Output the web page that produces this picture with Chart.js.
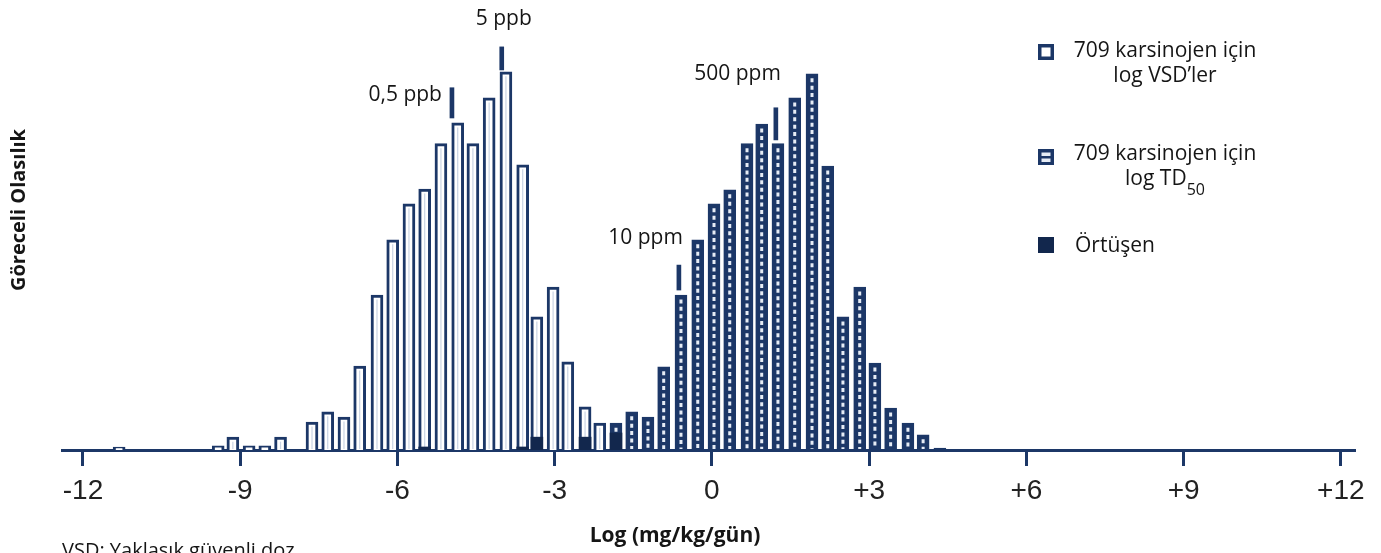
<!DOCTYPE html>
<html lang="tr">
<head>
<meta charset="utf-8">
<title>log VSD ve log TD50 dağılımı</title>
<script src="https://cdn.jsdelivr.net/npm/chart.js@4.4.1/dist/chart.umd.min.js"></script>
<style>
  html, body { margin: 0; padding: 0; background: #fff; }
  canvas { display: block; }
</style>
</head>
<body>
<canvas id="histChart" width="1381" height="553"></canvas>
<script>
// bin centres (log mg/kg/gün) and bar heights (tallest bar = 100)
const vsdLog = [-11.31, -9.42, -9.14, -8.83, -8.53, -8.23, -7.63, -7.33, -7.02, -6.72, -6.39, -6.09, -5.78,
  -5.48, -5.17, -4.85, -4.56, -4.25, -3.93, -3.61, -3.34, -3.03, -2.75, -2.42, -2.14];
const vsdValues = [0.8, 1.1, 3.4, 1.1, 1.1, 3.4, 7.4, 10.1, 8.7, 22.2, 41.0, 55.6, 65.1,
  69.0, 81.0, 86.5, 81.0, 93.1, 100, 75.4, 35.2, 43.1, 23.3, 11.4, 7.1];

const td50Log = [-1.83, -1.53, -1.22, -0.92, -0.59, -0.27, 0.04, 0.34, 0.67, 0.95, 1.26, 1.58, 1.91,
  2.21, 2.50, 2.82, 3.11, 3.41, 3.74, 4.03, 4.35];
const td50Values = [7.1, 10.1, 8.7, 22.0, 41.0, 55.6, 65.1, 68.8, 81.0, 86.2, 81.0, 93.1, 99.5,
  75.1, 35.2, 43.1, 23.0, 11.1, 7.1, 4.0, 0.5];

const overlapLog = [-5.48, -3.61, -3.34, -2.42, -1.83];
const overlapValues = [0.8, 0.8, 3.4, 3.4, 4.5];

// reference doses marked above the bars
const markerLog = [-4.96, -4.01, -0.63, 1.22];
const markerLow = [87.8, 100.5, 42.3, 82.0];
const markerHigh = [95.8, 106.6, 48.9, 90.5];
const markerLabels = ['0,5 ppb', '5 ppb', '10 ppm', '500 ppm'];

const tickValues = [-12, -9, -6, -3, 0, 3, 6, 9, 12];
const tickLabels = ['-12', '-9', '-6', '-3', '0', '+3', '+6', '+9', '+12'];

(function () {
  "use strict";

  const NAVY = '#1c3767';
  const DARK = '#12274d';
  const TEXT = '#151515';
  const FONT = '"Open Sans", "Noto Sans", sans-serif';

  // where each marker label sits relative to the top of its marker
  const labelPlace = [
    { align: 'right', dx: -10, dy: 13 },
    { align: 'center', dx: 2, dy: -22 },
    { align: 'right', dx: 4, dy: -21 },
    { align: 'right', dx: 5, dy: -28 }
  ];

  const points = (xs, ys) => xs.map((x, i) => ({ x: x, y: ys[i] }));

  function drawBarInsides(ctx, meta, kind) {
    meta.data.forEach(el => {
      const p = el.getProps(['x', 'y', 'base'], true);
      const top = p.y + 4.5;
      const bottom = p.base - 1;
      if (bottom - top < 3) return;
      ctx.save();
      ctx.beginPath();
      if (kind === 'ladder') {
        ctx.strokeStyle = '#e6ecf5';
        ctx.lineWidth = 3;
        ctx.setLineDash([4, 3.4]);
      } else {
        ctx.strokeStyle = '#c9d3e3';
        ctx.lineWidth = 1.2;
      }
      ctx.moveTo(p.x, top);
      ctx.lineTo(p.x, bottom);
      ctx.stroke();
      ctx.restore();
    });
  }

  function drawLegend(ctx) {
    ctx.save();
    ctx.fillStyle = TEXT;
    ctx.font = '21px ' + FONT;
    ctx.textAlign = 'center';
    ctx.textBaseline = 'alphabetic';

    // open bars
    ctx.fillStyle = NAVY;
    ctx.fillRect(1038, 44, 16, 16);
    ctx.fillStyle = '#fff';
    ctx.fillRect(1041.5, 47.5, 9, 9);
    ctx.fillStyle = TEXT;
    ctx.fillText('709 karsinojen için', 1165, 57);
    ctx.fillText('log VSD’ler', 1165, 82);

    // dotted bars
    ctx.fillStyle = NAVY;
    ctx.fillRect(1038, 149, 16, 16);
    ctx.fillStyle = '#e6ecf5';
    ctx.fillRect(1041.5, 152.5, 9, 3.5);
    ctx.fillRect(1041.5, 158.5, 9, 3.5);
    ctx.fillStyle = TEXT;
    ctx.fillText('709 karsinojen için', 1165, 160);
    const main = 'log TD';
    const sub = '50';
    const wMain = ctx.measureText(main).width;
    ctx.font = '16px ' + FONT;
    const wSub = ctx.measureText(sub).width;
    const start = 1165 - (wMain + wSub) / 2;
    ctx.textAlign = 'left';
    ctx.fillText(sub, start + wMain, 195);
    ctx.font = '21px ' + FONT;
    ctx.fillText(main, start, 185);

    // overlap
    ctx.fillStyle = DARK;
    ctx.fillRect(1038, 237, 16, 16);
    ctx.fillStyle = TEXT;
    ctx.fillText('Örtüşen', 1075, 252);
    ctx.restore();
  }

  const textPlugin = {
    id: 'textPlugin',
    afterDatasetDraw(chart, args) {
      const ds = chart.data.datasets[args.index];
      if (ds.inside) drawBarInsides(chart.ctx, args.meta, ds.inside);
    },
    afterDraw(chart) {
      const ctx = chart.ctx;

      // marker labels, placed from the marker bars
      const meta = chart.getDatasetMeta(3);
      ctx.save();
      ctx.fillStyle = TEXT;
      ctx.font = '21px ' + FONT;
      ctx.textBaseline = 'alphabetic';
      meta.data.forEach((el, i) => {
        const p = el.getProps(['x', 'y'], true);
        ctx.textAlign = labelPlace[i].align;
        ctx.fillText(markerLabels[i], p.x + labelPlace[i].dx, p.y + labelPlace[i].dy);
      });

      // axis titles and note
      ctx.font = 'bold 21px ' + FONT;
      ctx.textAlign = 'center';
      ctx.fillText('Log (mg/kg/gün)', 675, 542);
      ctx.save();
      ctx.font = 'bold 20px ' + FONT;
      ctx.translate(25, 210);
      ctx.rotate(-Math.PI / 2);
      ctx.fillText('Göreceli Olasılık', 0, 0);
      ctx.restore();
      ctx.font = '20px ' + FONT;
      ctx.textAlign = 'left';
      ctx.fillText('VSD: Yaklaşık güvenli doz', 62, 557);
      ctx.restore();

      drawLegend(ctx);
    }
  };

  const barBase = {
    borderColor: NAVY,
    borderWidth: 3,
    borderSkipped: 'bottom',
    barThickness: 12,
    grouped: false
  };

  new Chart(document.getElementById('histChart'), {
    type: 'bar',
    data: {
      datasets: [
        Object.assign({}, barBase, {
          label: 'log VSD',
          data: points(vsdLog, vsdValues),
          backgroundColor: '#ffffff',
          inside: 'stripe',
          order: 2
        }),
        Object.assign({}, barBase, {
          label: 'log TD50',
          data: points(td50Log, td50Values),
          backgroundColor: NAVY,
          inside: 'ladder',
          order: 2
        }),
        {
          label: 'Örtüşen',
          data: points(overlapLog, overlapValues),
          backgroundColor: DARK,
          borderWidth: 0,
          barThickness: 12,
          grouped: false,
          order: 1
        },
        {
          label: 'işaret',
          data: markerLog.map((x, i) => ({ x: x, y: [markerLow[i], markerHigh[i]] })),
          backgroundColor: NAVY,
          borderWidth: 0,
          barThickness: 4,
          grouped: false,
          order: 0
        }
      ]
    },
    options: {
      responsive: false,
      animation: false,
      layout: { padding: { left: 62, right: 26, top: 0, bottom: 0 } },
      plugins: {
        legend: { display: false },
        tooltip: { enabled: false }
      },
      scales: {
        x: {
          type: 'linear',
          min: -12.4,
          max: 12.27,
          offset: false,
          z: 1,
          afterBuildTicks: s => { s.ticks = tickValues.map(v => ({ value: v })); },
          afterFit: s => { s.height = 103; },
          grid: {
            offset: false,
            drawOnChartArea: false,
            drawTicks: true,
            tickLength: 16,
            tickWidth: 3,
            tickColor: NAVY
          },
          border: { display: true, color: NAVY, width: 3 },
          ticks: {
            autoSkip: false,
            maxRotation: 0,
            padding: 8,
            color: '#222222',
            font: { family: '"Liberation Sans", Arial, sans-serif', size: 28 },
            callback: v => tickLabels[tickValues.indexOf(v)]
          }
        },
        y: {
          display: false,
          min: 0,
          max: 119
        }
      }
    },
    plugins: [textPlugin]
  });
})();
</script>
</body>
</html>
